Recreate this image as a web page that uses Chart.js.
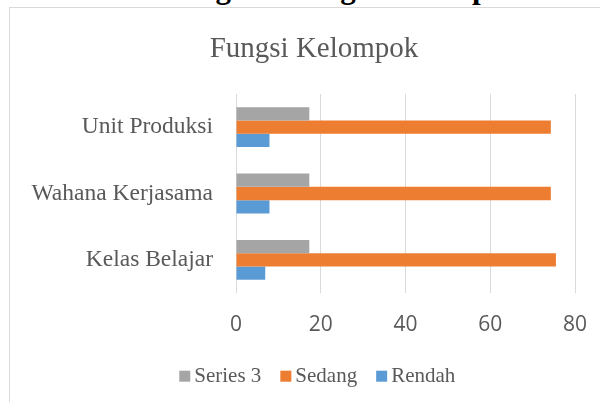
<!DOCTYPE html>
<html><head><meta charset="utf-8">
<script src="https://cdn.jsdelivr.net/npm/chart.js@4.4.1/dist/chart.umd.min.js"></script>
<style>
html,body{margin:0;padding:0;width:600px;height:402px;overflow:hidden;background:#fff;}
#box{position:absolute;left:9px;top:7px;width:610px;height:420px;border:1px solid #d9d9d9;}
#cap{position:absolute;left:20px;top:-28px;font:bold 31px "Liberation Serif","Times New Roman",serif;line-height:32px;color:#000;white-space:nowrap;}
canvas{display:block;}
</style></head><body>
<div id="box"><canvas id="c" width="610" height="420"></canvas></div>
<div id="cap">Grafik 3. Keragaan Fungsi Kelompok</div>
<script>
const categories = ["Unit Produksi", "Wahana Kerjasama", "Kelas Belajar"];
const seriesNames = ["Series 3", "Sedang", "Rendah"];
const series3 = [17.3, 17.3, 17.3];
const sedang = [74.3, 74.3, 75.5];
const rendah = [7.9, 7.9, 6.9];
const xTicks = [0, 20, 40, 60, 80];
const colors = ["#A5A5A5", "#ED7D31", "#5B9BD5"];
const chartTitle = "Fungsi Kelompok";

const serif = '"Liberation Serif","Times New Roman",serif';
const textColor = "#595959";

const textPlugin = {
  id: 'titleAndLegend',
  afterDraw(chart) {
    const ctx = chart.ctx;
    ctx.save();
    // title
    ctx.font = '29px ' + serif;
    ctx.fillStyle = textColor;
    ctx.textAlign = 'center';
    ctx.textBaseline = 'alphabetic';
    ctx.fillText(chartTitle, 304, 49);
    // legend
    ctx.font = '21px ' + serif;
    ctx.textAlign = 'left';
    const box = 11, gapBox = 4, gapItem = 19;
    const items = chart.data.datasets.map(d => ({text: d.label, color: d.backgroundColor, w: ctx.measureText(d.label).width}));
    let total = 0;
    items.forEach((it, i) => { total += box + gapBox + it.w + (i < items.length - 1 ? gapItem : 0); });
    let x = 307.3 - total / 2;
    const baseY = 373.7;
    items.forEach(it => {
      ctx.fillStyle = it.color;
      ctx.fillRect(x, baseY - box, box, box);
      x += box + gapBox;
      ctx.fillStyle = textColor;
      ctx.fillText(it.text, x, baseY);
      x += it.w + gapItem;
    });
    ctx.restore();
  }
};

new Chart(document.getElementById('c'), {
  type: 'bar',
  data: {
    labels: categories,
    datasets: [
      {label: seriesNames[0], data: series3, backgroundColor: colors[0]},
      {label: seriesNames[1], data: sedang, backgroundColor: colors[1]},
      {label: seriesNames[2], data: rendah, backgroundColor: colors[2]}
    ]
  },
  options: {
    indexAxis: 'y',
    responsive: false,
    animation: false,
    categoryPercentage: 0.6,
    barPercentage: 1.0,
    layout: {padding: {left: 0, right: 45, top: 86, bottom: 75}},
    plugins: {
      legend: {display: false},
      tooltip: {enabled: false},
      title: {display: false}
    },
    scales: {
      x: {
        min: 0, max: 80,
        afterBuildTicks: s => { s.ticks = xTicks.map(v => ({value: v})); },
        afterFit: s => { s.height = 60; },
        ticks: {color: textColor, font: {family: '"Open Sans", sans-serif', size: 21}, padding: 19},
        grid: {color: '#d9d9d9', lineWidth: 1, drawTicks: false},
        border: {display: false}
      },
      y: {
        afterFit: s => { s.width = 226; },
        ticks: {color: textColor, font: {family: serif, size: 23.5}, padding: 23},
        grid: {display: false, drawTicks: false},
        border: {display: false}
      }
    }
  },
  plugins: [textPlugin]
});
</script>
</body></html>
